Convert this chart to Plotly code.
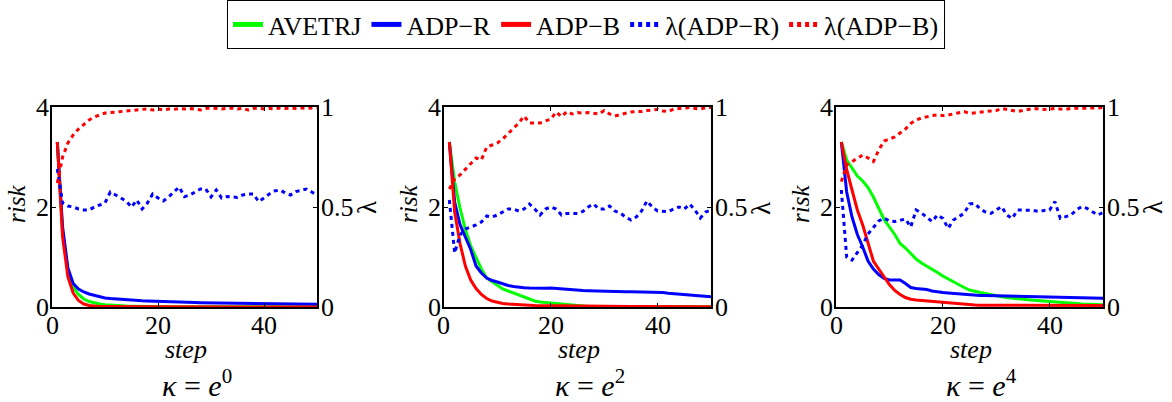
import plotly.graph_objects as go

steps = list(range(1, 51))

# ---- kappa = e^0 ----
risk_ave_0 = [3.30, 1.50, 0.72, 0.40, 0.25, 0.16, 0.11, 0.08, 0.06, 0.045,
              0.035, 0.028, 0.022, 0.018, 0.015, 0.012, 0.010, 0.008, 0.007, 0.006,
              0.005, 0.005, 0.005, 0.005, 0.005, 0.005, 0.005, 0.005, 0.005, 0.005,
              0.004, 0.004, 0.004, 0.004, 0.004, 0.004, 0.004, 0.004, 0.004, 0.004,
              0.003, 0.003, 0.003, 0.003, 0.003, 0.003, 0.003, 0.003, 0.003, 0.003]
risk_adpr_0 = [3.30, 1.60, 0.78, 0.47, 0.36, 0.30, 0.26, 0.23, 0.20, 0.18,
               0.17, 0.16, 0.15, 0.14, 0.135, 0.13, 0.125, 0.12, 0.115, 0.11,
               0.105, 0.10, 0.10, 0.095, 0.093, 0.09, 0.088, 0.086, 0.084, 0.082,
               0.08, 0.079, 0.078, 0.077, 0.075, 0.074, 0.072, 0.07, 0.069, 0.068,
               0.066, 0.065, 0.063, 0.062, 0.06, 0.059, 0.058, 0.057, 0.056, 0.055]
risk_adpb_0 = [3.30, 1.40, 0.60, 0.28, 0.13, 0.06, 0.03, 0.015, 0.010, 0.008,
               0.006, 0.005, 0.005, 0.004, 0.004, 0.004, 0.003, 0.003, 0.003, 0.003,
               0.003, 0.003, 0.003, 0.003, 0.003, 0.002, 0.002, 0.002, 0.002, 0.002,
               0.002, 0.002, 0.002, 0.002, 0.002, 0.002, 0.002, 0.002, 0.002, 0.002,
               0.002, 0.002, 0.002, 0.002, 0.002, 0.002, 0.002, 0.002, 0.002, 0.002]
lam_r_0 = [0.69, 0.52, 0.505, 0.50, 0.49, 0.485, 0.485, 0.50, 0.51, 0.52,
           0.575, 0.56, 0.545, 0.53, 0.50, 0.535, 0.49, 0.52, 0.565, 0.545,
           0.53, 0.55, 0.575, 0.60, 0.552, 0.56, 0.575, 0.59, 0.59, 0.55,
           0.585, 0.545, 0.552, 0.55, 0.548, 0.56, 0.565, 0.565, 0.527, 0.545,
           0.565, 0.58, 0.585, 0.57, 0.56, 0.577, 0.585, 0.59, 0.575, 0.56]
lam_b_0 = [0.62, 0.75, 0.82, 0.86, 0.89, 0.915, 0.935, 0.95, 0.96, 0.97,
           0.972, 0.975, 0.978, 0.982, 0.985, 0.985, 0.988, 0.99, 0.985, 0.99,
           0.985, 0.99, 0.988, 0.992, 0.99, 0.993, 0.99, 0.985, 0.993, 0.995,
           0.993, 0.99, 0.993, 0.995, 0.99, 0.993, 0.985, 0.993, 0.995, 0.99,
           0.993, 0.99, 0.995, 0.993, 0.995, 0.993, 0.995, 0.993, 0.995, 0.995]

# ---- kappa = e^2 ----
risk_ave_2 = [3.30, 2.50, 1.98, 1.55, 1.22, 0.98, 0.76, 0.58, 0.51, 0.44,
              0.36, 0.32, 0.28, 0.23, 0.20, 0.16, 0.12, 0.10, 0.09, 0.085,
              0.07, 0.055, 0.04, 0.03, 0.02, 0.015, 0.012, 0.010, 0.008, 0.007,
              0.006, 0.006, 0.006, 0.006, 0.006, 0.005, 0.005, 0.005, 0.005, 0.005,
              0.005, 0.005, 0.005, 0.004, 0.004, 0.004, 0.004, 0.004, 0.004, 0.004]
risk_adpr_2 = [3.30, 2.10, 1.65, 1.40, 1.15, 0.82, 0.68, 0.58, 0.53, 0.50,
               0.46, 0.43, 0.41, 0.39, 0.385, 0.38, 0.375, 0.37, 0.375, 0.38,
               0.37, 0.355, 0.35, 0.34, 0.335, 0.33, 0.325, 0.32, 0.32, 0.315,
               0.31, 0.31, 0.305, 0.305, 0.305, 0.305, 0.305, 0.305, 0.305, 0.30,
               0.29, 0.275, 0.265, 0.255, 0.245, 0.235, 0.225, 0.22, 0.21, 0.205]
risk_adpb_2 = [3.30, 1.90, 1.27, 0.82, 0.54, 0.37, 0.25, 0.17, 0.12, 0.09,
               0.07, 0.06, 0.05, 0.045, 0.04, 0.035, 0.03, 0.028, 0.026, 0.024,
               0.022, 0.02, 0.018, 0.016, 0.015, 0.014, 0.013, 0.012, 0.012, 0.011,
               0.011, 0.010, 0.010, 0.010, 0.009, 0.009, 0.009, 0.008, 0.008, 0.008,
               0.007, 0.007, 0.007, 0.006, 0.006, 0.006, 0.006, 0.005, 0.005, 0.005]
lam_r_2 = [0.535, 0.27, 0.36, 0.39, 0.40, 0.41, 0.425, 0.455, 0.45, 0.46,
           0.475, 0.49, 0.49, 0.48, 0.49, 0.515, 0.49, 0.46, 0.49, 0.50,
           0.49, 0.46, 0.468, 0.468, 0.468, 0.478, 0.50, 0.515, 0.49, 0.49,
           0.505, 0.48, 0.47, 0.45, 0.435, 0.45, 0.48, 0.53, 0.50, 0.48,
           0.477, 0.477, 0.49, 0.50, 0.49, 0.515, 0.485, 0.445, 0.475, 0.485]
lam_b_2 = [0.59, 0.64, 0.66, 0.69, 0.72, 0.745, 0.735, 0.80, 0.81, 0.82,
           0.84, 0.865, 0.89, 0.92, 0.955, 0.92, 0.92, 0.92, 0.93, 0.94,
           0.975, 0.952, 0.977, 0.965, 0.972, 0.97, 0.972, 0.968, 0.965, 0.982,
           0.965, 0.955, 0.962, 0.967, 0.975, 0.977, 0.977, 0.982, 0.985, 0.988,
           0.98, 0.977, 0.99, 0.993, 0.993, 0.997, 0.993, 0.99, 0.997, 0.997]

# ---- kappa = e^4 ----
risk_ave_4 = [3.30, 2.94, 2.78, 2.62, 2.52, 2.39, 2.20, 1.98, 1.75, 1.60,
              1.45, 1.27, 1.18, 1.07, 0.96, 0.88, 0.82, 0.75, 0.69, 0.62,
              0.56, 0.50, 0.44, 0.39, 0.34, 0.31, 0.29, 0.27, 0.245, 0.225,
              0.205, 0.19, 0.175, 0.165, 0.155, 0.145, 0.135, 0.125, 0.115, 0.107,
              0.10, 0.092, 0.085, 0.078, 0.07, 0.062, 0.057, 0.052, 0.048, 0.045]
risk_adpr_4 = [3.30, 2.30, 1.80, 1.45, 1.20, 0.92, 0.76, 0.65, 0.57, 0.54,
               0.54, 0.54, 0.47, 0.39, 0.37, 0.36, 0.35, 0.32, 0.30, 0.29,
               0.28, 0.27, 0.255, 0.245, 0.24, 0.235, 0.23, 0.228, 0.225, 0.22,
               0.218, 0.215, 0.213, 0.21, 0.208, 0.207, 0.205, 0.203, 0.20, 0.198,
               0.195, 0.193, 0.19, 0.188, 0.185, 0.183, 0.18, 0.178, 0.175, 0.173]
risk_adpb_4 = [3.30, 2.75, 2.34, 1.94, 1.64, 1.30, 0.92, 0.76, 0.60, 0.45,
               0.33, 0.25, 0.19, 0.155, 0.14, 0.13, 0.12, 0.11, 0.10, 0.095,
               0.085, 0.075, 0.06, 0.045, 0.04, 0.038, 0.037, 0.036, 0.035, 0.035,
               0.034, 0.034, 0.033, 0.033, 0.033, 0.032, 0.032, 0.032, 0.031, 0.031,
               0.031, 0.030, 0.030, 0.030, 0.030, 0.030, 0.030, 0.030, 0.030, 0.030]
lam_r_4 = [0.585, 0.25, 0.235, 0.27, 0.31, 0.365, 0.395, 0.43, 0.445, 0.43,
           0.427, 0.435, 0.44, 0.40, 0.485, 0.47, 0.45, 0.427, 0.46, 0.443,
           0.393, 0.435, 0.452, 0.468, 0.515, 0.518, 0.49, 0.475, 0.468, 0.485,
           0.502, 0.46, 0.443, 0.485, 0.485, 0.485, 0.483, 0.477, 0.483, 0.485,
           0.527, 0.443, 0.45, 0.46, 0.485, 0.502, 0.493, 0.475, 0.46, 0.472]
lam_b_4 = [0.627, 0.71, 0.727, 0.745, 0.76, 0.745, 0.727, 0.785, 0.83, 0.84,
           0.85, 0.87, 0.89, 0.918, 0.935, 0.945, 0.952, 0.957, 0.96, 0.957,
           0.96, 0.965, 0.972, 0.977, 0.968, 0.97, 0.972, 0.977, 0.98, 0.982,
           0.993, 0.988, 0.982, 0.977, 0.983, 0.988, 0.993, 0.99, 0.988, 0.99,
           0.993, 0.99, 0.988, 0.993, 0.993, 0.993, 0.993, 0.993, 0.995, 0.998]

panel_titles = ["<i>κ</i> = <i>e</i><sup>0</sup>", "<i>κ</i> = <i>e</i><sup>2</sup>",
                "<i>κ</i> = <i>e</i><sup>4</sup>"]
series_names = ["AVETRJ", "ADP\u2212R", "ADP\u2212B", "λ(ADP\u2212R)", "λ(ADP\u2212B)"]
x_ticks = [0, 20, 40]
x_tick_text = ["0", "20", "40"]
risk_ticks = [0, 2, 4]
risk_tick_text = ["0", "2", "4"]
lam_ticks = [0, 0.5, 1]
lam_tick_text = ["0", "0.5", "1"]

panels = [
    (risk_ave_0, risk_adpr_0, risk_adpb_0, lam_r_0, lam_b_0),
    (risk_ave_2, risk_adpr_2, risk_adpb_2, lam_r_2, lam_b_2),
    (risk_ave_4, risk_adpr_4, risk_adpb_4, lam_r_4, lam_b_4),
]

GREEN = "#00ff00"
BLUE = "#0000ff"
RED = "#ff0000"
FONT = "Liberation Serif"
W, H = 1172, 402

# pixel geometry of the panels
x_px = [(52, 317), (444, 711), (836, 1103)]
y_top, y_bot = 107, 307
ydom = [1 - y_bot / H, 1 - y_top / H]

fig = go.Figure()
layout = dict(
    width=W, height=H,
    margin=dict(l=0, r=0, t=0, b=0, autoexpand=False),
    paper_bgcolor="white", plot_bgcolor="white",
    font=dict(family=FONT, size=26, color="black"),
    showlegend=True,
    legend=dict(orientation="h", x=0.5, xanchor="center", y=1.0, yanchor="top",
                yref="container",
                bordercolor="black", borderwidth=1, bgcolor="white",
                font=dict(family=FONT, size=26, color="black"),
                itemwidth=30, tracegroupgap=0, itemsizing="constant",
                traceorder="normal"),
)

TF = dict(family=FONT, size=26, color="black")
annotations = []
dash_style = "4px,4px"
for i, (ave, adpr, adpb, lr, lb) in enumerate(panels):
    xa = "x" if i == 0 else f"x{i+1}"
    ya = "y" if i == 0 else f"y{2*i+1}"
    yb = f"y{2*i+2}"
    show = i == 0
    specs = [
        (ave, ya, GREEN, "solid", series_names[0]),
        (adpr, ya, BLUE, "solid", series_names[1]),
        (adpb, ya, RED, "solid", series_names[2]),
        (lr, yb, BLUE, dash_style, series_names[3]),
        (lb, yb, RED, dash_style, series_names[4]),
    ]
    for vals, yaxis, col, dash, name in specs:
        fig.add_trace(go.Scatter(
            x=steps, y=vals, xaxis=xa, yaxis=yaxis, mode="lines", name=name,
            legendgroup=name, showlegend=show,
            line=dict(color=col, width=3, dash=dash)))
    x0, x1 = x_px[i]
    xdom = [x0 / W, x1 / W]
    xkey = "xaxis" if i == 0 else f"xaxis{i+1}"
    ykey_a = "yaxis" if i == 0 else f"yaxis{2*i+1}"
    ykey_b = f"yaxis{2*i+2}"
    layout[xkey] = dict(domain=xdom, range=[0, 50], anchor=ya,
                        tickvals=x_ticks, ticks="inside", ticklen=4, tickcolor="black",
                        showline=True, linecolor="black", linewidth=1.5, mirror="ticks",
                        showgrid=False, zeroline=False, showticklabels=False)
    layout[ykey_a] = dict(domain=ydom, range=[0, 4], anchor=xa,
                          tickvals=risk_ticks, ticks="inside", ticklen=4, tickcolor="black",
                          showline=True, linecolor="black", linewidth=1.5,
                          showgrid=False, zeroline=False, showticklabels=False)
    layout[ykey_b] = dict(range=[0, 1], anchor=xa, overlaying=ya, side="right",
                          tickvals=lam_ticks,
                          ticks="inside", ticklen=4, tickcolor="black",
                          showline=True, linecolor="black", linewidth=1.5,
                          showgrid=False, zeroline=False, showticklabels=False)
    # tick labels placed through the axes' own scales
    for v, t in zip(x_ticks, x_tick_text):
        annotations.append(dict(text=t, x=v, xref=xa, y=1 - 325 / H, yref="paper",
                                showarrow=False, xanchor="center", yanchor="middle",
                                font=TF))
    for v, t in zip(risk_ticks, risk_tick_text):
        annotations.append(dict(text=t, x=(x0 - 1) / W, xref="paper", y=v, yref=ya,
                                showarrow=False, xanchor="right", yanchor="middle",
                                font=TF))
    for v, t in zip(lam_ticks, lam_tick_text):
        annotations.append(dict(text=t, x=(x1 + 2) / W, xref="paper", y=v, yref=yb,
                                showarrow=False, xanchor="left", yanchor="middle",
                                font=TF))
    # axis titles and panel title
    annotations.append(dict(text="<i>risk</i>", x=(x0 - 36) / W, y=1 - 204 / H,
                            xref="paper", yref="paper", showarrow=False, textangle=-90,
                            xanchor="center", yanchor="middle",
                            font=dict(family=FONT, size=25, color="black")))
    annotations.append(dict(text="λ", x=(x1 + 50) / W, y=1 - 208 / H,
                            xref="paper", yref="paper", showarrow=False, textangle=-90,
                            xanchor="center", yanchor="middle",
                            font=dict(family=FONT, size=27, color="black")))
    annotations.append(dict(text="<i>step</i>", x=((x0 + x1) / 2 + 1) / W, y=1 - 349 / H,
                            xref="paper", yref="paper", showarrow=False,
                            xanchor="center", yanchor="middle",
                            font=dict(family=FONT, size=26, color="black")))
    annotations.append(dict(text=panel_titles[i], x=((x0 + x1) / 2 + 12) / W, y=1 - 383 / H,
                            xref="paper", yref="paper", showarrow=False,
                            xanchor="center", yanchor="middle",
                            font=dict(family=FONT, size=30, color="black")))

layout["annotations"] = annotations
fig.update_layout(**layout)
fig.write_html("out.html")
